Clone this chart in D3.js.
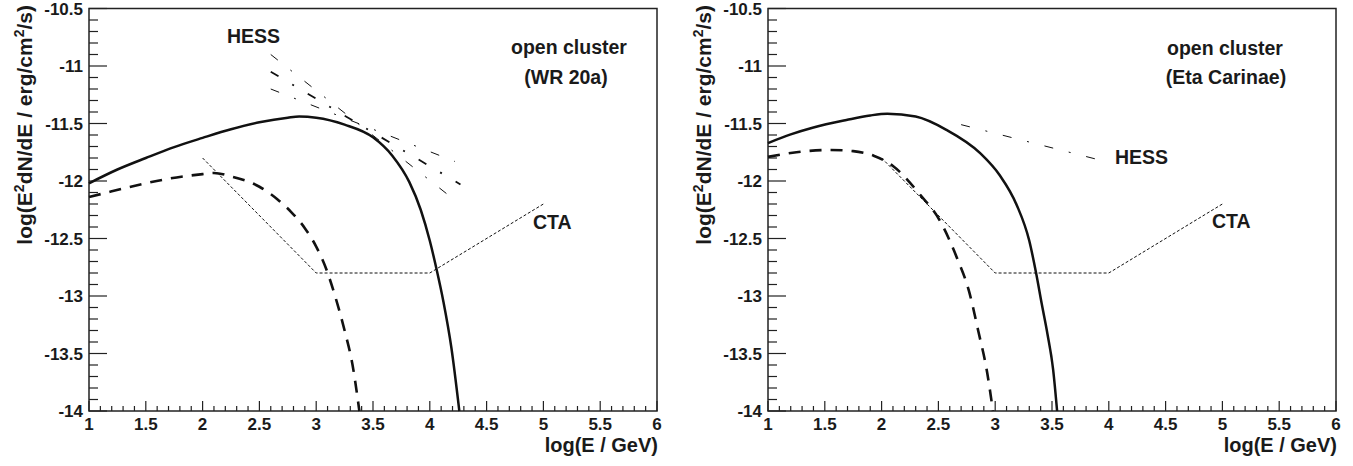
<!DOCTYPE html>
<html>
<head>
<meta charset="utf-8">
<script src="https://cdn.jsdelivr.net/npm/d3@7"></script>
<style>
  html, body { margin: 0; padding: 0; background: #fff; }
  svg { display: block; }
  text { font-family: "Liberation Sans", Arial, Helvetica, sans-serif; font-weight: bold; fill: #1a1a1a; }
</style>
</head>
<body>
<svg id="chart" width="1353" height="466"></svg>
<script>
// Axis ranges and tick labels
const xDomain = [1, 6];
const yDomain = [-14, -10.5];
const xTickLabels = ["1", "1.5", "2", "2.5", "3", "3.5", "4", "4.5", "5", "5.5", "6"];
const yTickLabels = ["-14", "-13.5", "-13", "-12.5", "-12", "-11.5", "-11", "-10.5"];

// WR 20a: total gamma-ray spectrum (solid) and hadronic component (dashed), [logE, log flux]
const wr20aTotal = [
  [1.0, -12.02], [1.25, -11.90], [1.5, -11.80], [1.75, -11.705], [2.0, -11.625],
  [2.25, -11.55], [2.5, -11.49], [2.75, -11.45], [2.85, -11.44], [3.0, -11.45],
  [3.25, -11.51], [3.5, -11.62], [3.67, -11.78], [3.82, -12.01], [3.92, -12.25],
  [4.0, -12.52], [4.06, -12.77], [4.12, -13.05], [4.19, -13.45], [4.26, -14.0]
];
const wr20aHadronic = [
  [1.0, -12.14], [1.2, -12.09], [1.5, -12.02], [1.7, -11.98], [2.0, -11.94],
  [2.1, -11.93], [2.25, -11.96], [2.5, -12.05], [2.66, -12.16], [2.78, -12.27],
  [2.9, -12.41], [3.0, -12.57], [3.09, -12.77], [3.16, -12.98], [3.25, -13.3],
  [3.32, -13.6], [3.38, -14.0]
];

// Eta Carinae: total (solid) and hadronic component (dashed)
const etaTotal = [
  [1.0, -11.67], [1.2, -11.595], [1.4, -11.535], [1.69, -11.47], [1.9, -11.43],
  [2.05, -11.415], [2.3, -11.44], [2.57, -11.555], [2.87, -11.76], [3.04, -11.95],
  [3.19, -12.21], [3.3, -12.52], [3.36, -12.80], [3.41, -13.07], [3.46, -13.33],
  [3.51, -13.64], [3.545, -14.0]
];
const etaHadronic = [
  [1.0, -11.79], [1.25, -11.75], [1.55, -11.73], [1.75, -11.74], [1.93, -11.78],
  [2.1, -11.87], [2.34, -12.12], [2.51, -12.34], [2.66, -12.66], [2.77, -12.96],
  [2.85, -13.3], [2.93, -13.67], [2.98, -14.0]
];

// CTA sensitivity and HESS spectra
const ctaSensitivity = [[2.0, -11.8], [3.0, -12.8], [4.0, -12.8], [5.0, -12.2]];
const wr20aHessUpper = [[2.6, -10.90], [4.25, -12.19]];
const wr20aHessFit   = [[2.6, -11.05], [4.27, -12.03]];
const wr20aHessLower = [[2.6, -11.20], [4.22, -11.83]];
const etaHess = [[2.7, -11.51], [3.93, -11.82]];

const svg = d3.select("#chart");
const frameTop = 8.5, frameBottom = 411;

function drawPanel(left, right, opts) {
  const x = d3.scaleLinear().domain(xDomain).range([left, right]);
  const y = d3.scaleLinear().domain(yDomain).range([frameBottom, frameTop]);
  const g = svg.append("g");

  // frame
  g.append("rect")
    .attr("x", left).attr("y", frameTop)
    .attr("width", right - left).attr("height", frameBottom - frameTop)
    .attr("fill", "none").attr("stroke", "#222").attr("stroke-width", 1.5);

  // x ticks (inside, from the bottom axis)
  const xt = d3.range(0, 51).map(i => ({ v: xDomain[0] + i * 0.1, major: i % 5 === 0 }));
  g.selectAll(".xt").data(xt).enter().append("line")
    .attr("x1", d => x(d.v)).attr("x2", d => x(d.v))
    .attr("y1", frameBottom).attr("y2", d => frameBottom - (d.major ? 10 : 5))
    .attr("stroke", "#222").attr("stroke-width", 1.2);
  g.selectAll(".xl").data(xTickLabels).enter().append("text")
    .attr("x", d => x(+d)).attr("y", 430)
    .attr("text-anchor", "middle").attr("font-size", 17)
    .text(d => d);

  // y ticks (inside, from the left axis)
  const yt = d3.range(0, 36).map(i => ({ v: yDomain[0] + i * 0.1, major: i % 5 === 0 }));
  g.selectAll(".yt").data(yt).enter().append("line")
    .attr("x1", left).attr("x2", d => left + (d.major ? 18 : 9))
    .attr("y1", d => y(d.v)).attr("y2", d => y(d.v))
    .attr("stroke", "#222").attr("stroke-width", 1.2);
  g.selectAll(".yl").data(yTickLabels).enter().append("text")
    .attr("x", left - 6).attr("y", d => y(+d) + 6)
    .attr("text-anchor", "end").attr("font-size", 17)
    .text(d => d);

  // axis titles
  g.append("text")
    .attr("x", right + 1).attr("y", 452)
    .attr("text-anchor", "end").attr("font-size", 20)
    .text("log(E / GeV)");

  const yt2 = g.append("text")
    .attr("transform", `translate(${left - 57},5) rotate(-90)`)
    .attr("text-anchor", "end").attr("font-size", 21);
  yt2.append("tspan").text("log(E");
  yt2.append("tspan").attr("dy", -8).attr("font-size", 14).text("2");
  yt2.append("tspan").attr("dy", 8).text("dN/dE / erg/cm");
  yt2.append("tspan").attr("dy", -8).attr("font-size", 14).text("2");
  yt2.append("tspan").attr("dy", 8).text("/s)");

  const smooth = d3.line().x(d => x(d[0])).y(d => y(d[1])).curve(d3.curveMonotoneX);
  const straight = d3.line().x(d => x(d[0])).y(d => y(d[1]));

  // CTA sensitivity
  g.append("path").attr("d", straight(ctaSensitivity))
    .attr("fill", "none").attr("stroke", "#111").attr("stroke-width", 1)
    .attr("stroke-dasharray", "3,2");

  // HESS spectra
  opts.hess.forEach(h => {
    g.append("path").attr("d", straight(h.data))
      .attr("fill", "none").attr("stroke", "#111").attr("stroke-width", h.width)
      .attr("stroke-dasharray", "9,16,2,16");
  });

  // hadronic component
  g.append("path").attr("d", smooth(opts.hadronic))
    .attr("fill", "none").attr("stroke", "#111").attr("stroke-width", 2.6)
    .attr("stroke-dasharray", "12,9");

  // total
  g.append("path").attr("d", smooth(opts.total))
    .attr("fill", "none").attr("stroke", "#111").attr("stroke-width", 2.5);

  // labels
  opts.labels.forEach(l => {
    g.append("text").attr("x", l.x).attr("y", l.y)
      .attr("text-anchor", l.anchor || "start").attr("font-size", 19.5)
      .text(l.text);
  });
}

drawPanel(89, 657, {
  total: wr20aTotal,
  hadronic: wr20aHadronic,
  hess: [
    { data: wr20aHessUpper, width: 1 },
    { data: wr20aHessFit, width: 1.8 },
    { data: wr20aHessLower, width: 1 }
  ],
  labels: [
    { text: "HESS", x: 227, y: 43 },
    { text: "CTA", x: 533, y: 229 },
    { text: "open cluster", x: 569, y: 54, anchor: "middle" },
    { text: "(WR 20a)", x: 566, y: 84, anchor: "middle" }
  ]
});

drawPanel(768, 1336, {
  total: etaTotal,
  hadronic: etaHadronic,
  hess: [{ data: etaHess, width: 1 }],
  labels: [
    { text: "HESS", x: 1115, y: 164 },
    { text: "CTA", x: 1212, y: 228 },
    { text: "open cluster", x: 1225, y: 55, anchor: "middle" },
    { text: "(Eta Carinae)", x: 1226, y: 84, anchor: "middle" }
  ]
});
</script>
</body>
</html>
